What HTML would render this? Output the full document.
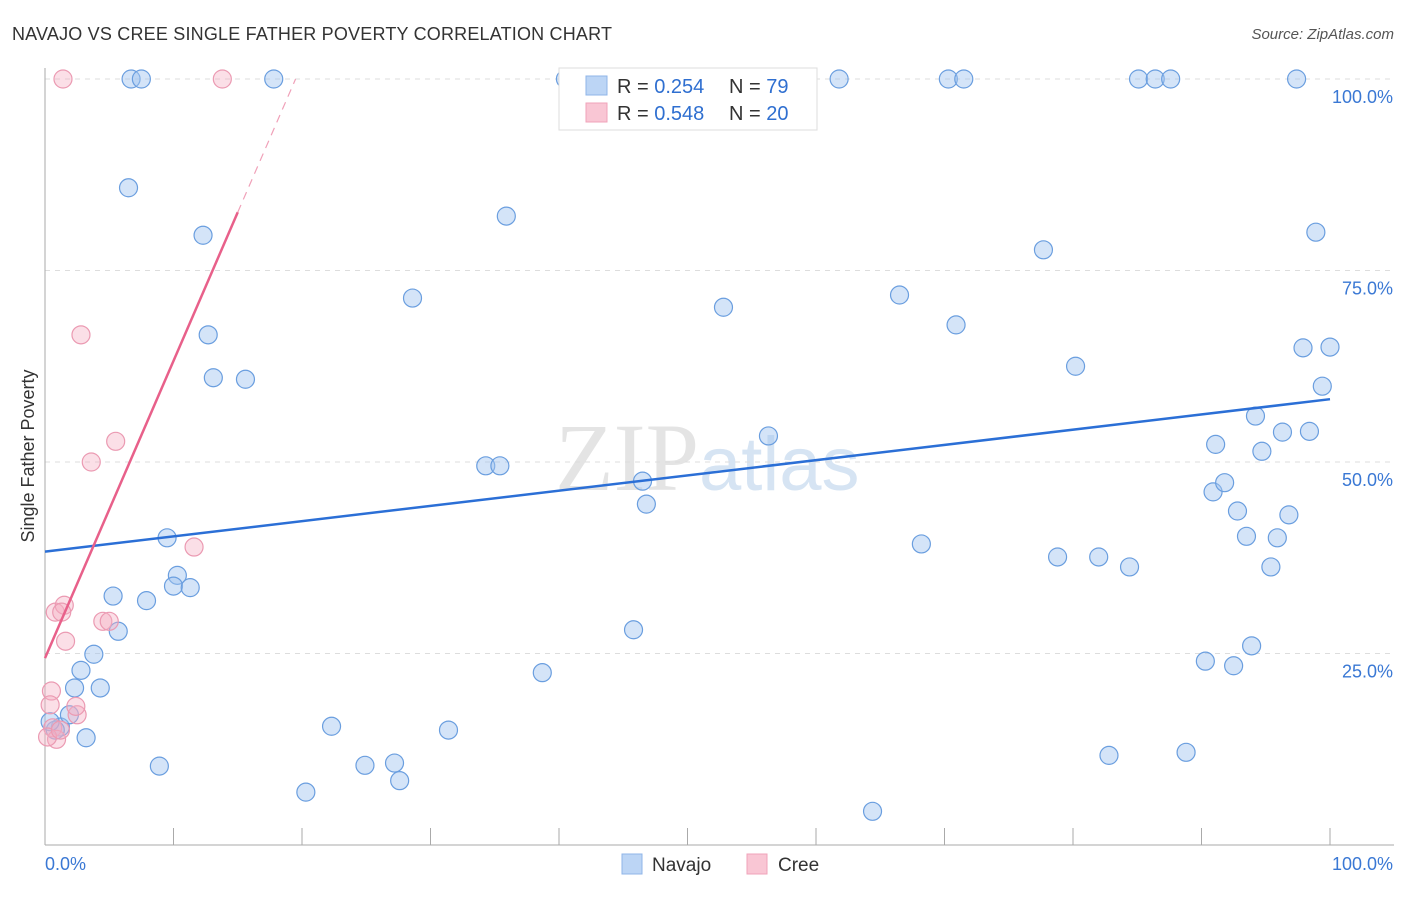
<!DOCTYPE html>
<html><head><meta charset="utf-8"><style>
body{margin:0;background:#fff;font-family:"Liberation Sans",sans-serif}
</style></head><body>
<svg id="c" width="1406" height="892" xmlns="http://www.w3.org/2000/svg" font-family="Liberation Sans, sans-serif">
<text x="12" y="40" font-size="18" fill="#333" textLength="600">NAVAJO VS CREE SINGLE FATHER POVERTY CORRELATION CHART</text>
<text x="1394" y="39" font-size="15" fill="#555" text-anchor="end" font-style="italic">Source: ZipAtlas.com</text>
<text x="555" y="490" font-size="96" fill="#e4e4e4" font-family="Liberation Serif, serif">ZIP<tspan fill="#d6e4f3" font-family="Liberation Sans, sans-serif" font-size="76">atlas</tspan></text>
<g id="grid"></g><g id="axes"></g><g id="pts"></g><g id="trend"></g>
<text transform="translate(34,456) rotate(-90)" font-size="18" fill="#333" text-anchor="middle">Single Father Poverty</text>
<g>
<rect x="559" y="68" width="258" height="62" fill="#fff" stroke="#ddd"/>
<rect x="586" y="76" width="21" height="19" fill="#bcd5f5" stroke="#8fb5e8"/>
<rect x="586" y="103" width="21" height="19" fill="#f9c6d4" stroke="#f0a3ba"/>
<text x="617" y="93" font-size="20" fill="#333">R = <tspan fill="#2f6fd0">0.254</tspan></text>
<text x="729" y="93" font-size="20" fill="#333">N = <tspan fill="#2f6fd0">79</tspan></text>
<text x="617" y="120" font-size="20" fill="#333">R = <tspan fill="#2f6fd0">0.548</tspan></text>
<text x="729" y="120" font-size="20" fill="#333">N = <tspan fill="#2f6fd0">20</tspan></text>
</g>
<g>
<rect x="622" y="854" width="20" height="20" fill="#bcd5f5" stroke="#8fb5e8"/>
<text x="652" y="871" font-size="19" fill="#333">Navajo</text>
<rect x="747" y="854" width="20" height="20" fill="#f9c6d4" stroke="#f0a3ba"/>
<text x="778" y="871" font-size="19" fill="#333">Cree</text>
</g>
</svg>
<script>
const yTicks=[25,50,75,100];
const yTickLabels=["25.0%","50.0%","75.0%","100.0%"];
const xTicks=[0,10,20,30,40,50,60,70,80,90,100];
const navajoX=[6.7,7.5,17.8,40.5,61.8,70.3,71.5,85.1,86.4,87.6,97.4,6.5,12.3,35.9,98.9,77.7,28.6,52.8,66.5,70.9,12.7,97.9,100,13.1,15.6,80.2,99.4,94.2,91.1,96.3,98.4,94.7,56.3,34.3,35.4,46.5,90.9,91.8,46.8,92.8,96.8,93.5,95.9,68.2,9.5,78.8,82.0,84.4,95.4,10.3,10.0,11.3,7.9,5.3,5.7,45.8,3.8,2.8,38.7,2.3,4.3,90.3,92.5,93.9,22.3,31.4,1.2,0.8,3.2,1.9,0.4,8.9,24.9,27.2,27.6,20.3,82.8,88.8,64.4];
const navajoY=[100,100,100,100,100,100,100,100,100,100,100,85.8,79.6,82.1,80.0,77.7,71.4,70.2,71.8,67.9,66.6,64.9,65.0,61.0,60.8,62.5,59.9,56.0,52.3,53.9,54.0,51.4,53.4,49.5,49.5,47.5,46.1,47.3,44.5,43.6,43.1,40.3,40.1,39.3,40.1,37.6,37.6,36.3,36.3,35.2,33.8,33.6,31.9,32.5,27.9,28.1,24.9,22.8,22.5,20.5,20.5,24.0,23.4,26.0,15.5,15.0,15.4,15.0,14.0,17.0,16.1,10.3,10.4,10.7,8.4,6.9,11.7,12.1,4.4];
const creeX=[1.4,13.8,2.8,5.5,3.6,11.6,0.8,1.5,1.3,4.5,5.0,1.6,0.5,0.4,2.5,2.4,0.6,0.9,0.2,1.2];
const creeY=[100,100,66.6,52.7,50.0,38.9,30.4,31.3,30.4,29.2,29.2,26.6,20.1,18.3,17.0,18.1,15.3,13.8,14.1,15.0];
const navajoTrend=[[0,38.3],[100,58.2]];
const creeTrend=[[0,24.4],[15.0,82.6]];
const creeTrendDash=[[15.0,82.6],[19.5,100]];
const NS="http://www.w3.org/2000/svg";
const sx=v=>45+v*12.85, sy=v=>845-v*7.66;
function mk(t,a,p){const e=document.createElementNS(NS,t);for(const k in a)e.setAttribute(k,a[k]);document.getElementById(p).appendChild(e);return e;}
yTicks.forEach((t,i)=>{
 const g=mk('line',{x1:45,x2:1394,y1:sy(t),y2:sy(t),stroke:'#ddd','stroke-dasharray':'5,5'},'grid');
 
 
 const l=mk('text',{x:1393,y:sy(t)+24,'font-size':18,fill:'#3a78d4','text-anchor':'end'},'axes');
 l.textContent=yTickLabels[i];
 
 
});
const ya=mk('line',{x1:45,x2:45,y1:68,y2:845,stroke:'#aaa'},'axes');


const xa=mk('line',{x1:45,x2:1394,y1:845,y2:845,stroke:'#aaa'},'axes');


xTicks.forEach(t=>{const e=mk('line',{x1:sx(t),x2:sx(t),y1:828,y2:845,stroke:'#aaa'},'axes');
 
 });
[["0.0%",45,'start'],["100.0%",1393,'end']].forEach(d=>{const e=mk('text',{x:d[1],y:870,'font-size':18,fill:'#3a78d4','text-anchor':d[2]},'axes');e.textContent=d[0];
 
 });
navajoX.forEach((x,i)=>{const c=mk('circle',{cx:sx(x),cy:sy(navajoY[i]),r:9,fill:'rgba(160,196,240,0.45)',stroke:'#6a9edf','stroke-width':1.2},'pts');
 
 });
creeX.forEach((x,i)=>{const c=mk('circle',{cx:sx(x),cy:sy(creeY[i]),r:9,fill:'rgba(246,175,195,0.4)',stroke:'#eb9ab2','stroke-width':1.2},'pts');
 
 });
const t1=mk('line',{x1:sx(navajoTrend[0][0]),y1:sy(navajoTrend[0][1]),x2:sx(navajoTrend[1][0]),y2:sy(navajoTrend[1][1]),stroke:'#2b6fd6','stroke-width':2.5},'trend');


const t2=mk('line',{x1:sx(creeTrend[0][0]),y1:sy(creeTrend[0][1]),x2:sx(creeTrend[1][0]),y2:sy(creeTrend[1][1]),stroke:'#e8608a','stroke-width':2.5},'trend');


const t3=mk('line',{x1:sx(creeTrendDash[0][0]),y1:sy(creeTrendDash[0][1]),x2:sx(creeTrendDash[1][0]),y2:sy(creeTrendDash[1][1]),stroke:'#f0a0b8','stroke-width':1.2,'stroke-dasharray':'8,6'},'trend');


</script>
</body></html>
